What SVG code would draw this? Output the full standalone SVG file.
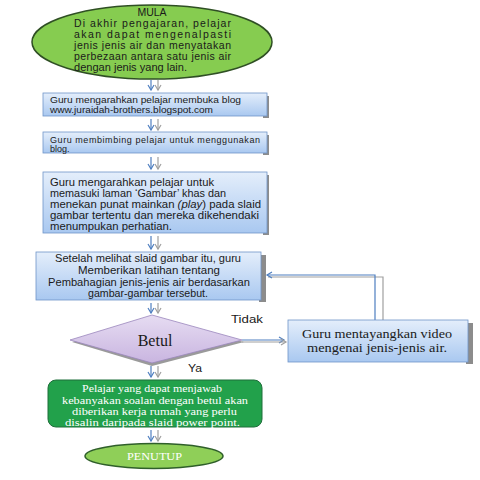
<svg xmlns="http://www.w3.org/2000/svg" width="480" height="480" viewBox="0 0 480 480">
<defs>
<linearGradient id="gBlue" x1="0" y1="0" x2="0" y2="1">
<stop offset="0" stop-color="#e4eefb"/>
<stop offset="1" stop-color="#a9c8f0"/>
</linearGradient>
<linearGradient id="gPurple" x1="0" y1="0" x2="0" y2="1">
<stop offset="0" stop-color="#e6dcf2"/>
<stop offset="1" stop-color="#c9b5e0"/>
</linearGradient>
<marker id="ah" markerWidth="8" markerHeight="8" refX="6" refY="4" orient="auto" markerUnits="userSpaceOnUse">
<path d="M1,1 L6,4 L1,7" fill="none" stroke="#4f7fc0" stroke-width="1.2"/>
</marker>
<marker id="ahg" markerWidth="8" markerHeight="8" refX="6" refY="4" orient="auto" markerUnits="userSpaceOnUse">
<path d="M1,1 L6,4 L1,7" fill="none" stroke="#a0a0a0" stroke-width="1.2"/>
</marker>
</defs>
<style>
.box{fill:url(#gBlue);stroke:#6f95c8;stroke-width:0.8}
.sh{fill:#8c8c8c}
.t{font-family:"Liberation Sans",Arial,sans-serif;fill:#1a1a1a}
.s{font-family:"Liberation Serif","Times New Roman",serif}
.c1{stroke:#4f7fc0;stroke-width:1.2;fill:none}
.c2{stroke:#a0a0a0;stroke-width:1.2;fill:none}
</style>
<rect width="480" height="480" fill="#ffffff"/>

<g id="connectors">
<line class="c1" x1="151" y1="80" x2="151" y2="90" marker-end="url(#ah)"/>
<line class="c2" x1="158" y1="80" x2="158" y2="90" marker-end="url(#ahg)"/>
<line class="c1" x1="151" y1="119" x2="151" y2="130" marker-end="url(#ah)"/>
<line class="c2" x1="158" y1="119" x2="158" y2="130" marker-end="url(#ahg)"/>
<line class="c1" x1="151" y1="157" x2="151" y2="169" marker-end="url(#ah)"/>
<line class="c2" x1="158" y1="157" x2="158" y2="169" marker-end="url(#ahg)"/>
<line class="c1" x1="151" y1="236" x2="151" y2="249" marker-end="url(#ah)"/>
<line class="c2" x1="158" y1="236" x2="158" y2="249" marker-end="url(#ahg)"/>
<line class="c1" x1="151" y1="303" x2="151" y2="313" marker-end="url(#ah)"/>
<line class="c2" x1="158" y1="303" x2="158" y2="313" marker-end="url(#ahg)"/>
<line class="c1" x1="151" y1="366" x2="151" y2="377" marker-end="url(#ah)"/>
<line class="c2" x1="158" y1="366" x2="158" y2="377" marker-end="url(#ahg)"/>
<line class="c1" x1="151" y1="430" x2="151" y2="441" marker-end="url(#ah)"/>
<line class="c2" x1="158" y1="430" x2="158" y2="441" marker-end="url(#ahg)"/>
<line class="c1" x1="242" y1="340" x2="284" y2="340" marker-end="url(#ah)"/>
<line class="c2" x1="242" y1="342" x2="286" y2="342" marker-end="url(#ahg)"/>
<polyline class="c2" points="383,320 383,277 268,277"/>
<polyline class="c1" points="375,320 375,275 267,275" marker-end="url(#ah)"/>
</g>

<g id="mula">
<ellipse cx="152" cy="42" rx="120" ry="37" fill="#86cc50" stroke="#2f4f24" stroke-width="1.5"/>
<text class="t" x="152" y="16" font-size="10.5" text-anchor="middle">MULA</text>
<text class="t" x="74" y="27" font-size="10.5" textLength="157" lengthAdjust="spacing">Di akhir pengajaran, pelajar</text>
<text class="t" x="74" y="38" font-size="10.5" textLength="157" lengthAdjust="spacing">akan dapat mengenalpasti</text>
<text class="t" x="74" y="49" font-size="10.5" textLength="157" lengthAdjust="spacing">jenis jenis air dan menyatakan</text>
<text class="t" x="74" y="60" font-size="10.5" textLength="157" lengthAdjust="spacing">perbezaan antara satu jenis air</text>
<text class="t" x="74" y="71" font-size="10.5" textLength="113" lengthAdjust="spacingAndGlyphs">dengan jenis yang lain.</text>
</g>

<g id="box1">
<rect class="sh" x="263" y="96" width="6" height="22"/>
<rect class="box" x="43" y="93" width="224" height="23"/>
<text class="t" x="50" y="103" font-size="9" textLength="191" lengthAdjust="spacingAndGlyphs">Guru mengarahkan pelajar membuka blog</text>
<text class="t" x="50" y="112.5" font-size="9" textLength="163" lengthAdjust="spacingAndGlyphs">www.juraidah-brothers.blogspot.com</text>
</g>

<g id="box2">
<rect class="sh" x="263" y="135" width="6" height="20"/>
<rect class="box" x="43" y="132" width="224" height="21"/>
<text class="t" x="50" y="143" font-size="9" textLength="210" lengthAdjust="spacing">Guru membimbing pelajar untuk menggunakan</text>
<text class="t" x="50" y="152" font-size="9">blog.</text>
</g>

<g id="box3">
<rect class="sh" x="263" y="175" width="6" height="60"/>
<rect class="box" x="43" y="172" width="224" height="61"/>
<text class="t" x="50" y="186" font-size="11" textLength="164" lengthAdjust="spacingAndGlyphs">Guru mengarahkan pelajar untuk</text>
<text class="t" x="50" y="197" font-size="11" textLength="176" lengthAdjust="spacingAndGlyphs">memasuki laman ‘Gambar’ khas dan</text>
<text class="t" x="50" y="208" font-size="11" textLength="211" lengthAdjust="spacingAndGlyphs">menekan punat mainkan <tspan font-style="italic">(play</tspan>) pada slaid</text>
<text class="t" x="50" y="219" font-size="11" textLength="209" lengthAdjust="spacingAndGlyphs">gambar tertentu dan mereka dikehendaki</text>
<text class="t" x="50" y="230" font-size="11" textLength="122" lengthAdjust="spacingAndGlyphs">menumpukan perhatian.</text>
</g>

<g id="box4">
<rect class="sh" x="259" y="255" width="7" height="47"/>
<rect class="box" x="36" y="252" width="225" height="48"/>
<text class="t" x="55" y="262" font-size="10.8" textLength="186" lengthAdjust="spacingAndGlyphs">Setelah melihat slaid gambar itu, guru</text>
<text class="t" x="78" y="274" font-size="10.8" textLength="142" lengthAdjust="spacingAndGlyphs">Memberikan latihan tentang</text>
<text class="t" x="48" y="286" font-size="10.8" textLength="202" lengthAdjust="spacingAndGlyphs">Pembahagian jenis-jenis air berdasarkan</text>
<text class="t" x="88" y="297" font-size="10.8" textLength="120" lengthAdjust="spacingAndGlyphs">gambar-gambar tersebut.</text>
</g>

<g id="betul">
<polygon points="72,342 152,317 244,342 152,366" fill="#9a9a9a"/>
<polygon points="70,340 152,315 242,340 152,363" fill="url(#gPurple)" stroke="#9b86bd" stroke-width="0.8"/>
<text class="s" x="155" y="346" font-size="16" text-anchor="middle" fill="#1a1a1a">Betul</text>
</g>
<text class="t" x="231" y="323" font-size="10.5" textLength="32" lengthAdjust="spacingAndGlyphs">Tidak</text>
<text class="t" x="188" y="372" font-size="10.5" textLength="14" lengthAdjust="spacingAndGlyphs">Ya</text>

<g id="video">
<rect class="sh" x="466" y="323" width="7" height="41"/>
<rect class="box" x="288" y="320" width="180" height="42"/>
<text class="s" x="302" y="338" font-size="12" textLength="150" lengthAdjust="spacingAndGlyphs" fill="#1a1a1a">Guru mentayangkan video</text>
<text class="s" x="307" y="352" font-size="12" textLength="140" lengthAdjust="spacingAndGlyphs" fill="#1a1a1a">mengenai jenis-jenis air.</text>
</g>

<g id="kerja">
<rect x="48" y="380" width="214" height="47" rx="8" fill="#22a14b" stroke="#1f6e3a" stroke-width="1"/>
<text class="s" x="82" y="392" font-size="11" textLength="140" lengthAdjust="spacingAndGlyphs" fill="#ffffff">Pelajar yang dapat menjawab</text>
<text class="s" x="62" y="403.5" font-size="11" textLength="186" lengthAdjust="spacingAndGlyphs" fill="#ffffff">kebanyakan soalan dengan betul akan</text>
<text class="s" x="72" y="415" font-size="11" textLength="165" lengthAdjust="spacingAndGlyphs" fill="#ffffff">diberikan kerja rumah yang perlu</text>
<text class="s" x="65" y="426" font-size="11" textLength="175" lengthAdjust="spacingAndGlyphs" fill="#ffffff">disalin daripada slaid power point.</text>
</g>

<g id="penutup">
<ellipse cx="154" cy="456" rx="69" ry="12.5" fill="#8fcf58" stroke="#2f5f2a" stroke-width="1.5"/>
<text class="s" x="127" y="460" font-size="11" textLength="55" lengthAdjust="spacingAndGlyphs" fill="#ffffff">PENUTUP</text>
</g>
</svg>
